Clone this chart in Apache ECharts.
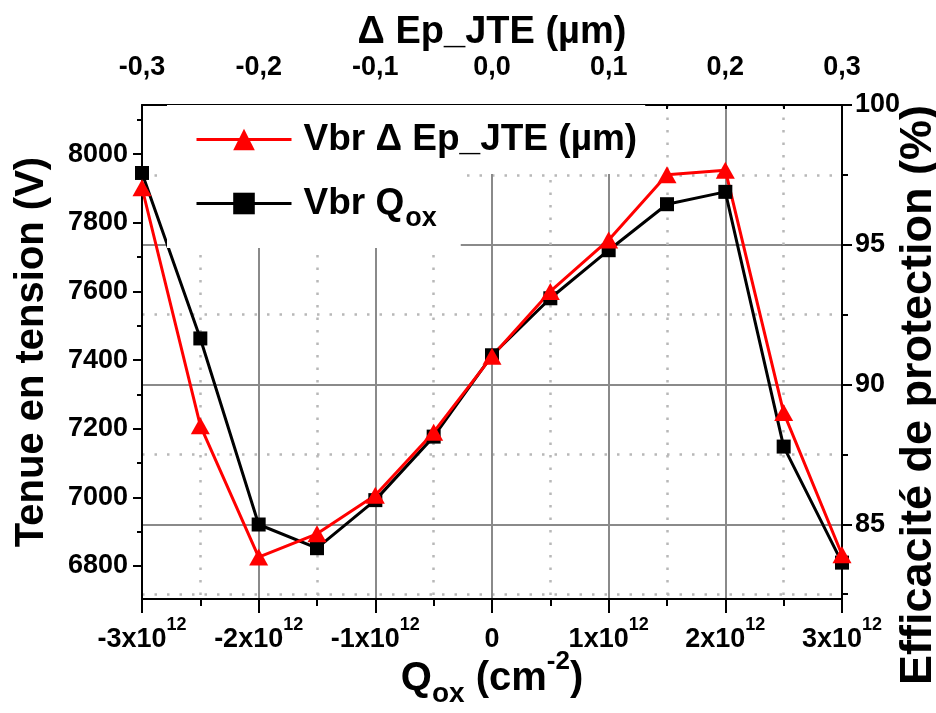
<!DOCTYPE html>
<html>
<head>
<meta charset="utf-8">
<script src="https://cdn.jsdelivr.net/npm/echarts@6/dist/echarts.min.js"></script>
<style>
  html, body { margin: 0; padding: 0; background: #fff; }
  #chart { width: 936px; height: 713px; }
</style>
</head>
<body>
<div id="chart"></div>
<script>
  // bottom axis : Q_ox (cm-2)
  var qox = [-3e12, -2.5e12, -2e12, -1.5e12, -1e12, -0.5e12, 0, 0.5e12, 1e12, 1.5e12, 2e12, 2.5e12, 3e12];
  var vbrQox = [7945, 7463, 6921, 6852, 6992, 7177, 7414, 7580, 7720, 7854, 7890, 7148, 6810];
  // top axis : delta Ep_JTE (um)
  var dEp = [-0.3, -0.25, -0.2, -0.15, -0.1, -0.05, 0, 0.05, 0.1, 0.15, 0.2, 0.25, 0.3];
  var vbrEp = [7902, 7209, 6826, 6894, 7006, 7190, 7411, 7600, 7750, 7940, 7953, 7247, 6833];
  // tick values
  var leftTicks = [6800, 7000, 7200, 7400, 7600, 7800, 8000];
  var leftMinor = [6700, 6900, 7100, 7300, 7500, 7700, 7900, 8100];
  var rightTicks = [85, 90, 95, 100];
  var rightMinor = [82.5, 87.5, 92.5, 97.5];

  var FONT = '"Liberation Sans", Arial, sans-serif';
  var black = {color: '#000', width: 2};
  var gridSolid = {color: '#8a8a8a', width: 2};
  var gridDot = {color: '#b8b8b8', width: 2.5, type: [2.5, 10]};

  function pairs(xs, ys) {
    return xs.map(function (x, i) { return [x, ys[i]]; });
  }
  function bold(size, extra) {
    var s = {fontSize: size, fontWeight: 'bold', fontFamily: FONT, color: '#000', lineHeight: size};
    for (var k in extra) s[k] = extra[k];
    return s;
  }

  var chart = echarts.init(document.getElementById('chart'));

  var option = {
    backgroundColor: '#fff',
    animation: false,
    textStyle: {fontFamily: FONT, fontWeight: 'bold', color: '#000'},
    grid: {left: 142, right: 94, top: 105, bottom: 114, outerBoundsMode: 'none', containLabel: false},
    legend: [
      {
        data: ['Vbr \u0394 Ep_JTE (\u00b5m)'],
        left: 167, top: 105,
        padding: [16, 8, 16, 28],
        backgroundColor: '#fff',
        itemWidth: 95, itemHeight: 27,
        lineStyle: {width: 3},
        selectedMode: false,
        formatter: function (n) { return '{m|' + n + '}'; },
        textStyle: {rich: {m: bold(37, {lineHeight: 36, padding: [0, 0, 0, 7]})}}
      },
      {
        data: ['Vbr Qox'],
        left: 167, top: 173,
        padding: [2, 24, 16, 28],
        backgroundColor: '#fff',
        itemWidth: 95, itemHeight: 27,
        lineStyle: {width: 3},
        selectedMode: false,
        formatter: function () { return '{m|Vbr Q}{s|ox}'; },
        textStyle: {
          rich: {
            m: bold(37, {lineHeight: 36, padding: [0, 0, 0, 7]}),
            s: bold(27, {lineHeight: 27, padding: [30, 0, 0, 1]})
          }
        }
      }
    ],
    xAxis: [
      {
        type: 'value', position: 'bottom',
        min: -3e12, max: 3e12, interval: 1e12,
        axisLine: {onZero: false, lineStyle: black},
        axisTick: {length: 14, lineStyle: black},
        minorTick: {show: true, splitNumber: 2, length: 7, lineStyle: black},
        splitLine: {show: true, showMinLine: false, showMaxLine: false, lineStyle: gridSolid},
        minorSplitLine: {show: true, lineStyle: gridDot},
        axisLabel: {
          margin: 27,
          formatter: function (v) {
            if (v === 0) return '{b|0}';
            return '{b|' + Math.round(v / 1e12) + 'x10}{sup|12}';
          },
          rich: {
            b: bold(27),
            sup: bold(18, {padding: [0, 0, 28, 0]})
          }
        },
        name: '{q|Q}{sub|ox}{q| (cm}{sup|-2}{q|)}',
        nameLocation: 'middle', nameGap: 60, nameMoveOverlap: false,
        nameTextStyle: {
          rich: {
            q: bold(40),
            sub: bold(28, {padding: [30, 0, 0, 0]}),
            sup: bold(26, {padding: [0, 0, 34, 0]})
          }
        }
      },
      {
        type: 'value', position: 'top',
        min: -0.3, max: 0.3, interval: 0.1,
        axisLine: {onZero: false, lineStyle: black},
        axisTick: {inside: true, length: 4, lineStyle: black},
        minorTick: {show: true, splitNumber: 2, length: 4, lineStyle: black},
        splitLine: {show: false},
        axisLabel: bold(27, {margin: 24, formatter: function (v) { return v.toFixed(1).replace('.', ','); }}),
        name: '\u0394 Ep_JTE (\u00b5m)',
        nameLocation: 'middle', nameGap: 52, nameMoveOverlap: false,
        nameTextStyle: bold(38, {lineHeight: 40})
      }
    ],
    yAxis: [
      {
        type: 'value', position: 'left', min: 6704, max: 8143,
        axisLine: {show: true, onZero: false, lineStyle: black},
        axisTick: {customValues: leftTicks, length: 9, lineStyle: black},
        axisLabel: bold(27, {customValues: leftTicks, margin: 14, formatter: function (v) { return String(v); }}),
        splitLine: {show: false},
        name: 'Tenue en tension (V)',
        nameLocation: 'middle', nameGap: 90, nameMoveOverlap: false,
        nameTextStyle: bold(40)
      },
      {
        type: 'value', position: 'left', min: 6704, max: 8143,
        axisLine: {show: false, onZero: false},
        axisTick: {customValues: leftMinor, length: 5, lineStyle: black},
        axisLabel: {show: false},
        splitLine: {show: false}
      },
      {
        type: 'value', position: 'right', min: 82.33, max: 100,
        axisLine: {show: true, onZero: false, lineStyle: black},
        axisTick: {customValues: rightTicks, length: 10, lineStyle: black},
        axisLabel: bold(27, {customValues: rightTicks, margin: 13, formatter: function (v) { return String(v); }}),
        splitLine: {show: true, showMaxLine: false, lineStyle: gridSolid},
        name: 'Efficacit\u00e9 de protection (%)',
        nameLocation: 'middle', nameGap: 54, nameMoveOverlap: false,
        nameTextStyle: bold(45, {padding: [0, 86, 0, 0]})
      },
      {
        type: 'value', position: 'right', min: 82.33, max: 100,
        axisLine: {show: false, onZero: false},
        axisTick: {customValues: rightMinor, length: 6, lineStyle: black},
        axisLabel: {show: false},
        splitLine: {show: true, lineStyle: gridDot}
      }
    ],
    series: [
      {
        name: 'Vbr Qox', type: 'line',
        xAxisIndex: 0, yAxisIndex: 0,
        data: pairs(qox, vbrQox),
        symbol: 'rect', symbolSize: 14,
        itemStyle: {color: '#000'},
        lineStyle: {color: '#000', width: 3}
      },
      {
        name: 'Vbr \u0394 Ep_JTE (\u00b5m)', type: 'line',
        xAxisIndex: 1, yAxisIndex: 0,
        data: pairs(dEp, vbrEp),
        symbol: 'triangle', symbolSize: [19, 17],
        itemStyle: {color: '#ff0000'},
        lineStyle: {color: '#ff0000', width: 3}
      }
    ]
  };

  chart.setOption(option, true);
</script>
</body>
</html>
